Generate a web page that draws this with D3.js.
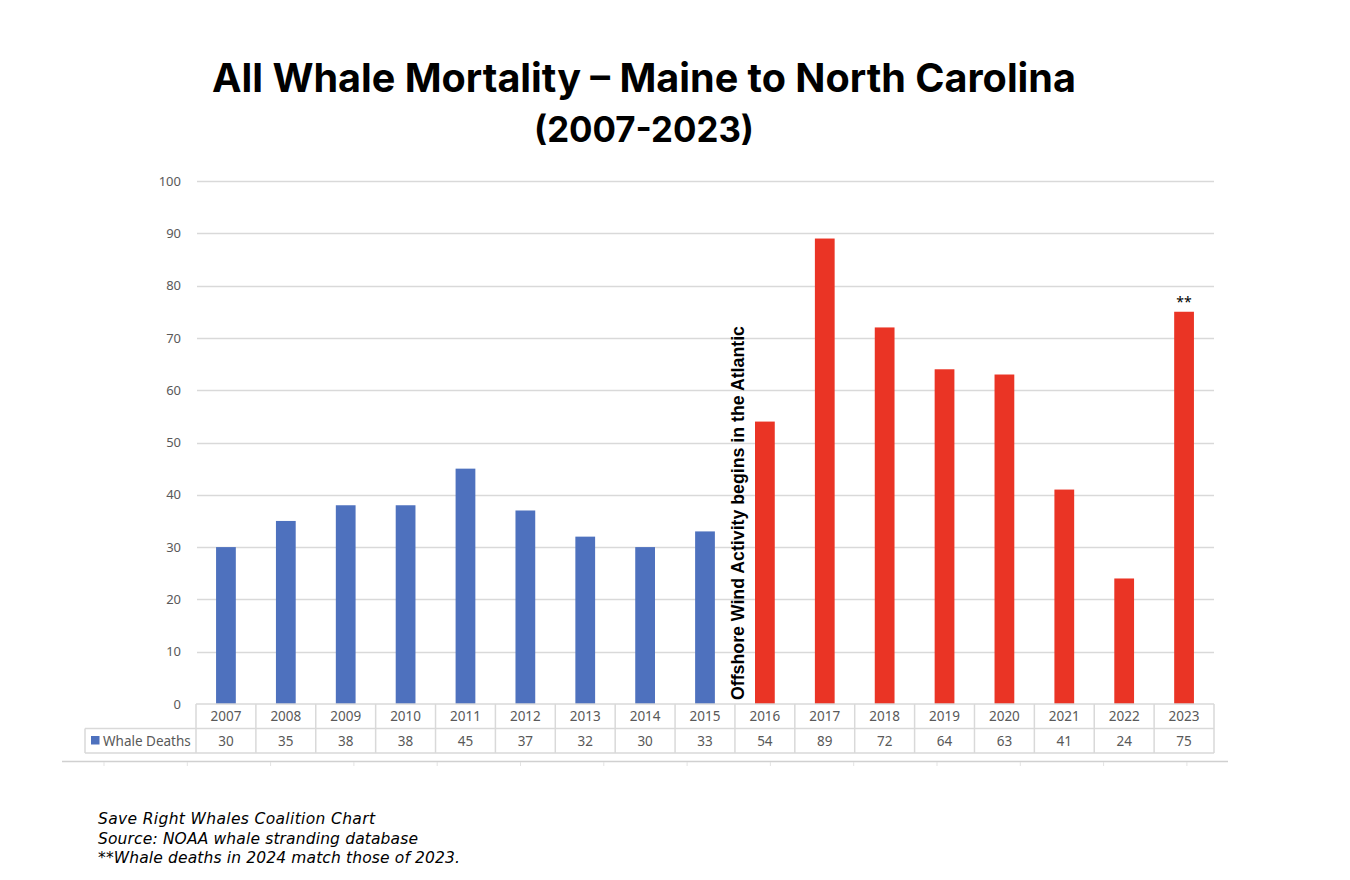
<!DOCTYPE html>
<html>
<head>
<meta charset="utf-8">
<script src="https://cdn.jsdelivr.net/npm/d3@7"></script>
<style>
  html, body { margin: 0; padding: 0; background: #ffffff; }
  svg { display: block; }
</style>
</head>
<body>
<svg id="chart" width="1350" height="880"></svg>
<script>
// ---- data ----
const years = ["2007","2008","2009","2010","2011","2012","2013","2014","2015","2016","2017","2018","2019","2020","2021","2022","2023"];
const deaths = [30, 35, 38, 38, 45, 37, 32, 30, 33, 54, 89, 72, 64, 63, 41, 24, 75];
const period = ["pre","pre","pre","pre","pre","pre","pre","pre","pre","wind","wind","wind","wind","wind","wind","wind","wind"];
const yTicks = [0, 10, 20, 30, 40, 50, 60, 70, 80, 90, 100];
const seriesName = "Whale Deaths";
const titleLines = ["All Whale Mortality \u2013 Maine to North Carolina", "(2007-2023)"];
const annotation = "Offshore Wind Activity begins in the Atlantic";
const footnotes = ["Save Right Whales Coalition Chart", "Source: NOAA whale stranding database", "**Whale deaths in 2024 match those of 2023."];
const starYear = "2023";
const starText = "**";

// ---- layout ----
const plotL = 196, plotR = 1214, plotT = 181, plotB = 704;
const rowH = 24.5;
const colors = { pre: "#4E71BE", wind: "#EA3425" };
const grid = "#D9D9D9";
const txt = "#595959";
const smallFont = "'Noto Sans', 'Open Sans', sans-serif";

const svg = d3.select("#chart");
const x = d3.scaleBand().domain(years).range([plotL, plotR]).padding(0);
const y = d3.scaleLinear().domain([0, 100]).range([plotB, plotT]);
const data = years.map((yr, i) => ({ year: yr, value: deaths[i], period: period[i] }));

// title
const title = svg.append("g");
const tw = [864, 220];
titleLines.forEach((t, i) => {
  const el = title.append("text")
    .attr("x", 644).attr("y", 92 + i * 50)
    .attr("text-anchor", "middle")
    .style("font-family", "Inter, 'Noto Sans', sans-serif")
    .style("font-weight", 700)
    .style("font-size", "36px")
    .style("fill", "#000")
    .text(t);
  const w = el.node().getComputedTextLength();
  if (w > 0) el.style("font-size", (36 * tw[i] / w).toFixed(2) + "px");
});

// gridlines
svg.append("g").selectAll("line").data(yTicks.filter(d => d > 0)).join("line")
  .attr("x1", plotL + 1).attr("x2", plotR)
  .attr("y1", d => Math.round(y(d)) + 0.5).attr("y2", d => Math.round(y(d)) + 0.5)
  .attr("stroke", grid).attr("stroke-width", 1.3);

// y axis labels
const yAxis = d3.axisLeft(y).tickValues(yTicks).tickSize(0).tickPadding(15);
svg.append("g").attr("transform", `translate(${plotL},0)`).call(yAxis)
  .call(g => g.select(".domain").remove())
  .call(g => g.selectAll("text")
    .style("font-family", smallFont)
    .style("font-size", "13px").style("fill", txt));

// bars
const bw = x.bandwidth() * 0.33;
svg.append("g").selectAll("rect").data(data).join("rect")
  .attr("x", d => x(d.year) + (x.bandwidth() - bw) / 2)
  .attr("width", bw)
  .attr("y", d => y(d.value))
  .attr("height", d => y(0) - y(d.value))
  .attr("fill", d => colors[d.period]);

// star annotation
svg.append("text")
  .attr("x", x(starYear) + x.bandwidth() / 2)
  .attr("y", y(deaths[years.indexOf(starYear)]) - 5)
  .attr("text-anchor", "middle")
  .style("font-family", "'Noto Sans', sans-serif")
  .style("font-size", "14px").style("fill", "#000")
  .text(starText);

// vertical annotation
const firstWind = years[period.indexOf("wind")];
const annBaseX = x(firstWind) + 9;
const ann = svg.append("text")
  .attr("transform", `translate(${annBaseX},${plotB - 4}) rotate(-90)`)
  .attr("text-anchor", "start")
  .style("font-family", "'Liberation Sans', Arial, sans-serif")
  .style("font-weight", 700)
  .style("font-size", "15px")
  .style("fill", "#000")
  .text(annotation);
{
  const w = ann.node().getComputedTextLength();
  if (w > 0) ann.style("font-size", (15 * 374 / w).toFixed(2) + "px");
}

// data table
const table = svg.append("g");
const row1 = plotB, row2 = plotB + rowH, row3 = plotB + 2 * rowH;
const legendLeft = 85;
[[plotL, plotR, row1], [legendLeft, plotR, row2], [legendLeft, plotR, row3]].forEach(([a, b, yy]) => {
  table.append("line").attr("x1", a).attr("x2", b).attr("y1", yy).attr("y2", yy)
    .attr("stroke", grid).attr("stroke-width", 1.5);
});
const vx = years.map(yr => x(yr)).concat([plotR]);
table.selectAll("line.v").data(vx).join("line").attr("class", "v")
  .attr("x1", d => d).attr("x2", d => d).attr("y1", row1).attr("y2", row3)
  .attr("stroke", grid).attr("stroke-width", 1.5);
table.append("line").attr("x1", legendLeft).attr("x2", legendLeft).attr("y1", row2).attr("y2", row3)
  .attr("stroke", grid).attr("stroke-width", 1.5);
table.selectAll("text.yr").data(data).join("text").attr("class", "yr")
  .attr("x", d => x(d.year) + x.bandwidth() / 2)
  .attr("y", row1 + rowH / 2 + 5)
  .attr("text-anchor", "middle")
  .style("font-family", smallFont)
  .style("font-size", "13.5px").style("fill", txt)
  .text(d => d.year);
table.selectAll("text.val").data(data).join("text").attr("class", "val")
  .attr("x", d => x(d.year) + x.bandwidth() / 2)
  .attr("y", row2 + rowH / 2 + 5)
  .attr("text-anchor", "middle")
  .style("font-family", smallFont)
  .style("font-size", "13.5px").style("fill", txt)
  .text(d => d.value);
table.append("rect").attr("x", 91).attr("y", row2 + 7.5).attr("width", 8.5).attr("height", 8.5)
  .attr("fill", colors.pre);
table.append("text").attr("x", 103).attr("y", row2 + rowH / 2 + 5)
  .style("font-family", smallFont)
  .style("font-size", "13.5px").style("fill", txt)
  .text(seriesName);

// bottom frame line with small ticks
const frame = svg.append("g");
frame.append("line").attr("x1", 62).attr("x2", 1228).attr("y1", 761.5).attr("y2", 761.5)
  .attr("stroke", "#D0D0D0").attr("stroke-width", 1.5);
const tickX = d3.scaleLinear().domain([0, 1]).range([104, 104 + 83.3]);
frame.selectAll("line.t").data(d3.range(0, 14)).join("line").attr("class", "t")
  .attr("x1", d => tickX(d)).attr("x2", d => tickX(d))
  .attr("y1", 762).attr("y2", 766)
  .attr("stroke", "#E3E3E3").attr("stroke-width", 1);

// footnotes
const footW = [277, 320, 362];
svg.append("g").selectAll("text").data(footnotes).join("text")
  .attr("x", 98).attr("y", (d, i) => 824 + i * 19.5)
  .style("font-family", "'DejaVu Sans', 'Noto Sans', sans-serif")
  .style("font-style", "italic")
  .style("font-size", "14.5px").style("fill", "#000")
  .text(d => d)
  .each(function(d, i) {
    const w = this.getComputedTextLength();
    if (w > 0) {
      const s = Math.min(15.5, 14.5 * footW[i] / w);
      d3.select(this).style("font-size", s.toFixed(2) + "px");
      const w2 = this.getComputedTextLength();
      if (w2 > 0 && Math.abs(w2 - footW[i]) > 2) {
        d3.select(this).attr("textLength", footW[i]).attr("lengthAdjust", "spacing");
      }
    }
  });
</script>
</body>
</html>
